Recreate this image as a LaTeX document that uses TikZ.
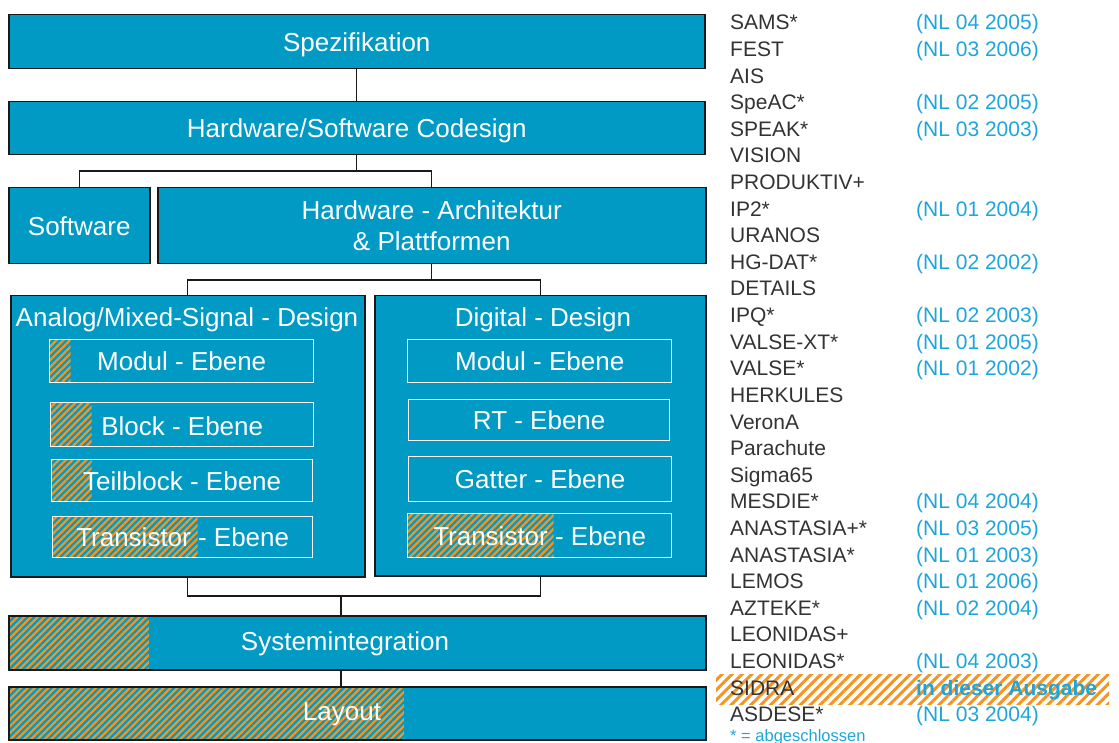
\documentclass[tikz,border=0pt]{standalone}
\usepackage{fontspec}
\setmainfont{Liberation Sans}
\usetikzlibrary{patterns.meta}
\definecolor{boxblue}{HTML}{009AC4}
\definecolor{hatchor}{HTML}{F7931E}
\definecolor{listblue}{HTML}{1EA5DA}
\definecolor{listgray}{HTML}{333333}
\tikzset{
  box/.style={draw=black!90, line width=1.5pt, fill=boxblue, text=white,
    font=\fontsize{26}{31}\selectfont, inner sep=0pt, anchor=north west, align=center, text depth=0pt},
  inbox/.style={draw=white, line width=1.4pt, text=white,
    font=\fontsize{26}{31}\selectfont, inner sep=0pt, anchor=north west, text depth=0pt},
  hatchw/.style={path picture={\fill[pattern={Lines[angle=45,distance=4.8pt,line width=2.3pt]}, pattern color=hatchor]
      (path picture bounding box.north west) rectangle ([xshift=#1]path picture bounding box.south west);}},
  conn/.style={draw=black!90, line width=1.2pt},
  title/.style={text=white, font=\fontsize{26}{31}\selectfont, inner sep=0pt, text depth=0pt},
  listtxt/.style={text=listgray, font=\fontsize{21}{25}\selectfont, inner sep=0pt, anchor=base west},
  nltxt/.style={text=listblue, font=\fontsize{21}{25}\selectfont, inner sep=0pt, anchor=base west},
}
\begin{document}
\begin{tikzpicture}[x=1pt,y=-1pt]
\useasboundingbox (0,0) rectangle (1119,743);
% main column
\node[box, minimum width=696pt, minimum height=54pt] (spez) at (8,14) {Spezifikation};
\node[box, minimum width=696pt, minimum height=53pt] (hwsw) at (8,101) {Hardware/Software Codesign};
\node[box, minimum width=141pt, minimum height=76pt] (sw) at (8,187) {Software};
\node[box, minimum width=548pt, minimum height=76pt] (hw) at (157,187) {Hardware - Architektur\\\& Plattformen};
\node[box, minimum width=354pt, minimum height=281pt] (ana) at (10,295) {};
\node[box, minimum width=331pt, minimum height=280pt] (dig) at (374,295) {};
\node[title] (anat) at (187,317) {Analog/Mixed-Signal - Design};
\node[title] (digt) at (543,317) {Digital - Design};
% analog levels
\node[inbox, hatchw=21pt, minimum width=264pt, minimum height=43pt] (am) at (49,339) {Modul - Ebene};
\node[inbox, hatchw=41pt, minimum width=263pt, minimum height=44pt, text height=22pt] (ab) at (50,402) {Block - Ebene};
\node[inbox, hatchw=40pt, minimum width=261pt, minimum height=42pt] (at) at (51,459) {Teilblock - Ebene};
\node[inbox, hatchw=145pt, minimum width=260pt, minimum height=41pt] (atr) at (52,516) {Transistor - Ebene};
% digital levels
\node[inbox, minimum width=264pt, minimum height=43pt] (dm) at (407,339) {Modul - Ebene};
\node[inbox, minimum width=261pt, minimum height=41pt] (drt) at (408,399) {RT - Ebene};
\node[inbox, minimum width=263pt, minimum height=45pt] (dg) at (408,456) {Gatter - Ebene};
\node[inbox, hatchw=146pt, minimum width=264pt, minimum height=44pt] (dtr) at (407,513) {Transistor - Ebene};
% bottom
\node[box, hatchw=140pt, minimum width=697pt, minimum height=54pt] (sys) at (8,615) {};
\node[title] (syst) at (345,641) {Systemintegration};
\node[box, hatchw=395pt, minimum width=697pt, minimum height=53pt] (lay) at (8,686) {};
\node[title] (layt) at (342,712) {Layout};
% connectors
\coordinate (j1) at (354,171);
\coordinate (j2) at (431,280);
\coordinate (j3) at (341,596);
\draw[conn] (spez.south) -- (hwsw.north);
\draw[conn] (hwsw.south) -- (hwsw.south |- j1);
\draw[conn] (sw.north) -- (sw.north |- j1) -- (hw.north |- j1) -- (hw.north);
\draw[conn] (hw.south) -- (hw.south |- j2);
\draw[conn] (ana.north) -- (ana.north |- j2) -- (dig.north |- j2) -- (dig.north);
\draw[conn] (ana.south) -- (ana.south |- j3) -- (dig.south |- j3) -- (dig.south);
\draw[conn] (j3) -- (j3 |- sys.north);
\draw[conn] (sys.south -| j3) -- (lay.north -| j3);
% SIDRA highlight
\path[pattern={Lines[angle=45,distance=7pt,line width=3pt]}, pattern color=hatchor] (716,674) rectangle (1109,704);
% list
\foreach \a/\b [count=\i] in {SAMS*/(NL 04 2005), FEST/(NL 03 2006), AIS/, SpeAC*/(NL 02 2005),
  SPEAK*/(NL 03 2003), VISION/, PRODUKTIV+/, IP2*/(NL 01 2004), URANOS/, HG-DAT*/(NL 02 2002),
  DETAILS/, IPQ*/(NL 02 2003), VALSE-XT*/(NL 01 2005), VALSE*/(NL 01 2002), HERKULES/, VeronA/,
  Parachute/, Sigma65/, MESDIE*/(NL 04 2004), ANASTASIA+*/(NL 03 2005), ANASTASIA*/(NL 01 2003),
  LEMOS/(NL 01 2006), AZTEKE*/(NL 02 2004), LEONIDAS+/, LEONIDAS*/(NL 04 2003), SIDRA/,
  ASDESE*/(NL 03 2004)} {
  \node[listtxt] (l\i) at (730,{30+26.6*(\i-1)}) {\a};
  \node[nltxt] (n\i) at (916,{30+26.6*(\i-1)}) {\b};
}
\node[nltxt, font=\fontsize{21}{25}\selectfont\bfseries] (ausg) at (916,{30+26.6*25}) {in dieser Ausgabe};
\node[nltxt, font=\fontsize{16.5}{19}\selectfont] (foot) at (730,741) {* = abgeschlossen};
\end{tikzpicture}
\end{document}
